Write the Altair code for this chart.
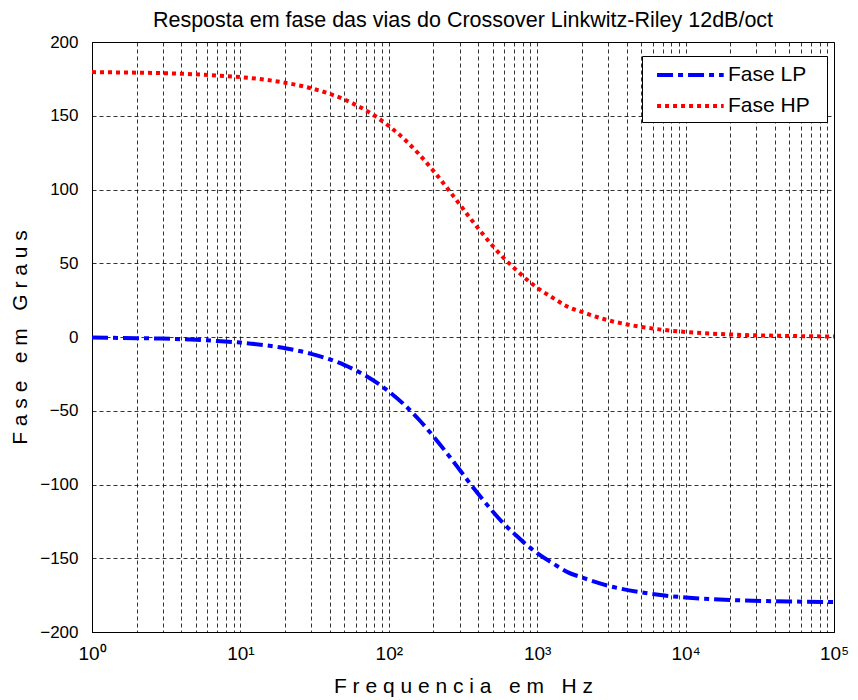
import altair as alt
import pandas as pd

freq = [1, 2, 3, 5, 7, 10, 15, 20, 30, 50, 70, 100, 130, 160, 200, 250, 300, 350,
        400, 500, 600, 700, 850, 1000, 1300, 1600, 2000, 3000, 5000, 7000, 10000,
        20000, 50000, 100000]
fase_lp = [-0.4, -0.8, -1.1, -1.9, -2.7, -3.8, -5.7, -7.6, -11.4, -18.9, -26.3, -36.9,
           -46.8, -56.1, -67.4, -79.6, -90.0, -98.9, -106.3, -118.1, -126.9, -133.3,
           -141.0, -146.6, -154.0, -159.4, -163.0, -168.6, -173.1, -175.1, -176.6,
           -178.3, -179.3, -179.7]
fase_hp = [179.6, 179.2, 178.9, 178.1, 177.3, 176.2, 174.3, 172.4, 168.6, 161.1, 153.7,
           143.1, 133.2, 123.9, 112.6, 100.4, 90.0, 81.1, 73.7, 61.9, 53.1, 46.7, 39.0,
           33.4, 26.0, 20.6, 17.0, 11.4, 6.9, 4.9, 3.4, 1.7, 0.7, 0.3]
series = ["Fase LP", "Fase HP"]
colors = ["#0000ff", "#ff0000"]
dashes = [[16, 5, 5, 5], [4, 4]]
x_ticks = [m * 10 ** k for k in range(5) for m in range(1, 10)] + [100000]
y_ticks = [-200, -150, -100, -50, 0, 50, 100, 150, 200]

NB = "\u00a0"
x_title = (" ".join("Frequencia") + NB * 3 + " ".join("em") + NB * 3 + " ".join("Hz"))
y_title = (" ".join("Fase") + NB * 3 + " ".join("em") + NB * 3 + " ".join("Graus"))

df = pd.concat([
    pd.DataFrame({"f": freq, "fase": fase_lp, "serie": series[0]}),
    pd.DataFrame({"f": freq, "fase": fase_hp, "serie": series[1]}),
])

font = "Liberation Sans"
label_expr = ("abs(log(datum.value)/LN10 - round(log(datum.value)/LN10)) < 1e-6 ? "
              "'10' + ['⁰','¹','²','³','⁴','⁵'][round(log(datum.value)/LN10)] : ''")

chart = alt.Chart(df).mark_line(strokeWidth=4, strokeCap="butt", interpolate="monotone").encode(
    x=alt.X("f:Q", scale=alt.Scale(type="log", domain=[1, 100000], nice=False),
            axis=alt.Axis(values=x_ticks, labelExpr=label_expr, labelOverlap=False,
                          labelFlush=False, title=x_title, labelFontSize=19,
                          ticks=False, labelPadding=12, titlePadding=12)),
    y=alt.Y("fase:Q", scale=alt.Scale(domain=[-200, 200], nice=False),
            axis=alt.Axis(values=y_ticks, title=y_title, labelFontSize=17,
                          ticks=False, labelPadding=14, titlePadding=9)),
    color=alt.Color("serie:N", scale=alt.Scale(domain=series, range=colors),
                    legend=alt.Legend(title=None, orient="none", legendX=550, legendY=14,
                                      symbolType="M-0.36,0H5.7", symbolSize=484,
                                      symbolStrokeWidth=4, labelFontSize=21,
                                      labelFont=font, fillColor="white",
                                      strokeColor="black", padding=6, rowPadding=8,
                                      labelOffset=54,
                                      labelExpr="datum.label + '\u2002\u200b'")),
    strokeDash=alt.StrokeDash("serie:N", scale=alt.Scale(domain=series, range=dashes),
                              legend=None),
).properties(
    width=742, height=590,
    title=alt.Title("Resposta em fase das vias do Crossover Linkwitz-Riley 12dB/oct",
                    fontSize=21.5, fontWeight="normal", font=font, offset=2),
    autosize=alt.AutoSizeParams(type="none"),
    padding={"left": 84, "top": 34, "right": 16, "bottom": 68},
).configure_view(
    stroke="black", strokeWidth=1
).configure_axis(
    grid=True, gridColor="black", gridDash=[4, 3], gridWidth=0.8, gridOpacity=1,
    domainColor="black", labelFont=font, titleFont=font,
    titleFontSize=21, titleFontWeight="normal", labelColor="black", titleColor="black",
)

chart.save("out.html", embed_options={"renderer": "svg", "actions": False})
